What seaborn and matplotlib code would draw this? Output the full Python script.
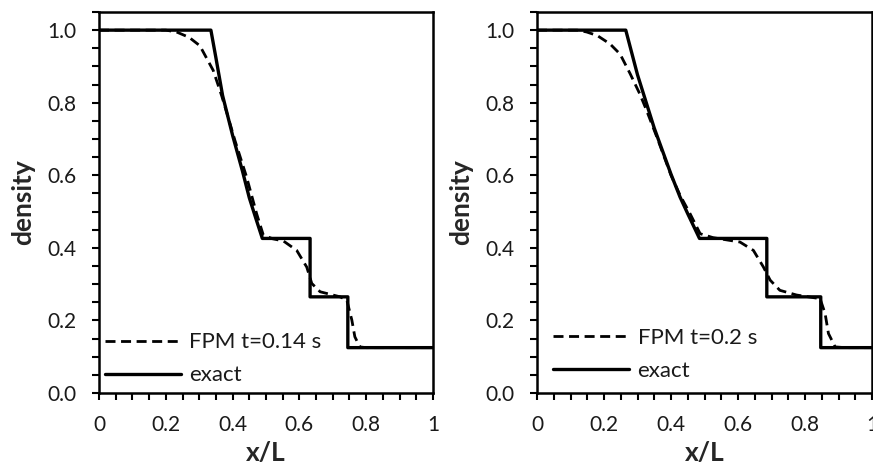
import numpy as np
import pandas as pd
import matplotlib
matplotlib.use("Agg")
import matplotlib.pyplot as plt
from matplotlib.ticker import MultipleLocator
import seaborn as sns

# ---- data ----
# t = 0.14 s
exact1_x = [0.0, 0.335, 0.35, 0.37, 0.40, 0.43, 0.45, 0.47, 0.489, 0.489, 0.632, 0.632, 0.745, 0.745, 1.0]
exact1_y = [1.0, 1.0, 0.924, 0.82, 0.710, 0.61, 0.538, 0.48, 0.426, 0.426, 0.426, 0.265, 0.265, 0.125, 0.125]
fpm1_x = [0.0, 0.20, 0.232, 0.27, 0.302, 0.342, 0.367, 0.385, 0.407, 0.442, 0.472, 0.492, 0.52, 0.552,
          0.592, 0.622, 0.637, 0.662, 0.722, 0.742, 0.757, 0.766, 0.781, 0.80, 1.0]
fpm1_y = [1.0, 1.0, 0.995, 0.98, 0.957, 0.889, 0.820, 0.765, 0.696, 0.595, 0.494, 0.435, 0.425, 0.419,
          0.393, 0.347, 0.302, 0.279, 0.265, 0.256, 0.201, 0.155, 0.127, 0.125, 0.125]

# t = 0.2 s
exact2_x = [0.0, 0.265, 0.30, 0.35, 0.40, 0.427, 0.45, 0.485, 0.485, 0.686, 0.686, 0.847, 0.847, 1.0]
exact2_y = [1.0, 1.0, 0.877, 0.730, 0.603, 0.540, 0.494, 0.426, 0.426, 0.426, 0.265, 0.265, 0.125, 0.125]
fpm2_x = [0.0, 0.12, 0.148, 0.18, 0.218, 0.248, 0.278, 0.307, 0.327, 0.36, 0.40, 0.427, 0.457, 0.487,
          0.526, 0.606, 0.646, 0.676, 0.696, 0.725, 0.775, 0.845, 0.860, 0.870, 0.890, 0.92, 1.0]
fpm2_y = [1.0, 1.0, 0.995, 0.985, 0.962, 0.934, 0.880, 0.824, 0.779, 0.70, 0.60, 0.545, 0.494, 0.439,
          0.428, 0.416, 0.393, 0.347, 0.311, 0.283, 0.270, 0.260, 0.219, 0.164, 0.127, 0.125, 0.125]

labels_fpm = ["FPM t=0.14 s", "FPM t=0.2 s"]
label_exact = "exact"
x_label = "x/L"
y_label = "density"

sns.set_theme(style="white")
plt.rcParams["font.family"] = ["Lato", "DejaVu Sans"]

fig = plt.figure(figsize=(8.73, 4.67), dpi=100)
ax1 = fig.add_axes([99 / 873, 74 / 467, 334 / 873, 381 / 467])
ax2 = fig.add_axes([537 / 873, 74 / 467, 335 / 873, 381 / 467])

panels = [
    (ax1, fpm1_x, fpm1_y, exact1_x, exact1_y, labels_fpm[0], (0.018, 0.020)),
    (ax2, fpm2_x, fpm2_y, exact2_x, exact2_y, labels_fpm[1], (0.048, 0.032)),
]

for ax, fx, fy, ex, ey, lab, anchor in panels:
    df_f = pd.DataFrame({"x": fx, "y": fy})
    df_e = pd.DataFrame({"x": ex, "y": ey})
    sns.lineplot(data=df_f, x="x", y="y", ax=ax, color="black", lw=2.0,
                 linestyle=(0, (3.6, 2.0)), sort=False, estimator=None, label=lab)
    sns.lineplot(data=df_e, x="x", y="y", ax=ax, color="black", lw=2.4,
                 sort=False, estimator=None, label=label_exact)
    ax.set_xlim(0, 1)
    ax.set_ylim(0, 1.05)
    ax.xaxis.set_minor_locator(MultipleLocator(0.05))
    ax.yaxis.set_minor_locator(MultipleLocator(0.05))
    ax.set_xticks([0, 0.2, 0.4, 0.6, 0.8, 1.0])
    ax.set_xticklabels(["0", "0.2", "0.4", "0.6", "0.8", "1"])
    ax.set_yticks([0.0, 0.2, 0.4, 0.6, 0.8, 1.0])
    ax.set_yticklabels(["0.0", "0.2", "0.4", "0.6", "0.8", "1.0"])
    ax.tick_params(axis="both", which="both", direction="out", length=5, width=1.5,
                   color="black", labelsize=15, labelcolor="#1a1a1a")
    ax.tick_params(axis="y", which="both", pad=11)
    ax.tick_params(axis="x", which="both", pad=11)
    ax.tick_params(bottom=True, left=True, which="both")
    for s in ax.spines.values():
        s.set_color("black")
        s.set_linewidth(1.8)
    ax.set_xlabel(x_label, fontsize=19, fontweight="bold", labelpad=4)
    ax.set_ylabel(y_label, fontsize=19, fontweight="bold", labelpad=9)
    leg = ax.legend(loc="lower left", bbox_to_anchor=anchor, frameon=False,
                    fontsize=16, handlelength=3.4, handletextpad=0.4,
                    labelspacing=0.58, borderpad=0, borderaxespad=0)
    for t in leg.get_texts():
        t.set_color("#1a1a1a")

fig.savefig("out.png", dpi=100)
